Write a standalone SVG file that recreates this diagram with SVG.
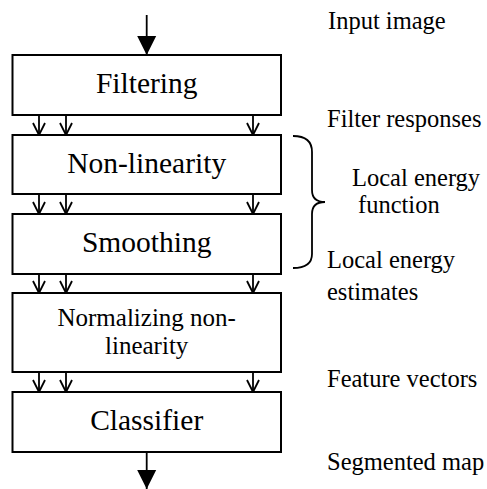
<svg xmlns="http://www.w3.org/2000/svg" width="487" height="489" viewBox="0 0 487 489">
<style>
.box{fill:#fff;stroke:#000;stroke-width:2}
.t{text-anchor:middle}
.big{font-size:29.5px}
.mid{font-size:25px}
.lbl{font-size:24.5px}
.ln{stroke:#000;stroke-width:1.8;fill:none}
</style>
<defs>
<marker id="v" markerUnits="userSpaceOnUse" markerWidth="16" markerHeight="16" refX="14" refY="8" orient="auto" viewBox="0 0 16 16">
<path d="M2,2 L14,8 L2,14" fill="none" stroke="#000" stroke-width="1.8"/>
</marker>
<marker id="f" markerUnits="userSpaceOnUse" markerWidth="22" markerHeight="22" refX="20" refY="11" orient="auto" viewBox="0 0 22 22">
<path d="M1,1.5 L20,11 L1,20.5 Z" fill="#000"/>
</marker>
</defs>
<g id="connectors">
<line class="ln" x1="146.7" y1="15" x2="146.7" y2="55" marker-end="url(#f)"/>
<line class="ln" x1="146.7" y1="452" x2="146.7" y2="489" marker-end="url(#f)"/>
<line class="ln" x1="39" y1="115" x2="39" y2="135" marker-end="url(#v)"/>
<line class="ln" x1="66" y1="115" x2="66" y2="135" marker-end="url(#v)"/>
<line class="ln" x1="253" y1="115" x2="253" y2="135" marker-end="url(#v)"/>
<line class="ln" x1="39" y1="194" x2="39" y2="214" marker-end="url(#v)"/>
<line class="ln" x1="66" y1="194" x2="66" y2="214" marker-end="url(#v)"/>
<line class="ln" x1="253" y1="194" x2="253" y2="214" marker-end="url(#v)"/>
<line class="ln" x1="39" y1="274" x2="39" y2="293" marker-end="url(#v)"/>
<line class="ln" x1="66" y1="274" x2="66" y2="293" marker-end="url(#v)"/>
<line class="ln" x1="253" y1="274" x2="253" y2="293" marker-end="url(#v)"/>
<line class="ln" x1="39" y1="372" x2="39" y2="392" marker-end="url(#v)"/>
<line class="ln" x1="66" y1="372" x2="66" y2="392" marker-end="url(#v)"/>
<line class="ln" x1="253" y1="372" x2="253" y2="392" marker-end="url(#v)"/>
</g>
<g font-family="Liberation Serif, DejaVu Serif, serif" fill="#000">
<g id="filtering">
<rect class="box" x="12.5" y="55" width="268.5" height="60"/>
<text class="t big" x="146.7" y="93">Filtering</text>
</g>
<g id="nonlinearity">
<rect class="box" x="12.5" y="135" width="268.5" height="59"/>
<text class="t big" x="146.7" y="173">Non-linearity</text>
</g>
<g id="smoothing">
<rect class="box" x="12.5" y="214" width="268.5" height="60"/>
<text class="t big" x="146.7" y="252">Smoothing</text>
</g>
<g id="normalizing">
<rect class="box" x="12.5" y="293" width="268.5" height="79"/>
<text class="t mid" x="146.7" y="326">Normalizing non-</text>
<text class="t mid" x="146.7" y="354">linearity</text>
</g>
<g id="classifier">
<rect class="box" x="12.5" y="392" width="268.5" height="60"/>
<text class="t big" x="146.7" y="430">Classifier</text>
</g>
<g id="brace">
<path class="ln" d="M293,136 Q312,136 312,152 L312,190 Q312,202 325,202 Q312,202 312,214 L312,254 Q312,268 293,268"/>
</g>
<g id="labels">
<text class="lbl" x="328" y="29">Input image</text>
<text class="lbl" x="327" y="127">Filter responses</text>
<text class="lbl" x="352" y="186">Local energy</text>
<text class="lbl" x="358" y="213">function</text>
<text class="lbl" x="327" y="268">Local energy</text>
<text class="lbl" x="327" y="300">estimates</text>
<text class="lbl" x="327" y="387">Feature vectors</text>
<text class="lbl" x="327" y="470">Segmented map</text>
</g>
</g>
</svg>
